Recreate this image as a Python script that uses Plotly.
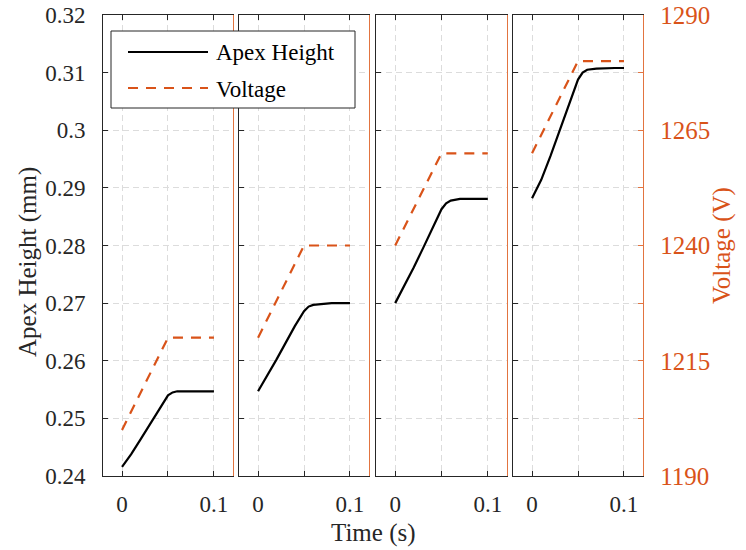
import plotly.graph_objects as go

# ---------------- data ----------------
time_apex = [0, 0.01, 0.02, 0.03, 0.04, 0.05, 0.055, 0.06, 0.07, 0.08, 0.09, 0.1]
apex_p1 = [0.2416, 0.2438, 0.2463, 0.2488, 0.2514, 0.2540, 0.2545, 0.2547, 0.2547, 0.2547, 0.2547, 0.2547]
apex_p2 = [0.2547, 0.2574, 0.2602, 0.2631, 0.2660, 0.2686, 0.2694, 0.2697, 0.2699, 0.2700, 0.2700, 0.2700]
apex_p3 = [0.2700, 0.2730, 0.2762, 0.2795, 0.2828, 0.2863, 0.2873, 0.2878, 0.2881, 0.2881, 0.2881, 0.2881]
apex_p4 = [0.2882, 0.2914, 0.2955, 0.2999, 0.3045, 0.3088, 0.3100, 0.3105, 0.3107, 0.3108, 0.3108, 0.3108]

time_volt = [0, 0.05, 0.1]
volt_p1 = [1200, 1220, 1220]
volt_p2 = [1220, 1240, 1240]
volt_p3 = [1240, 1260, 1260]
volt_p4 = [1260, 1280, 1280]

apex_ticks = [0.24, 0.25, 0.26, 0.27, 0.28, 0.29, 0.30, 0.31, 0.32]
apex_ticktext = ["0.24", "0.25", "0.26", "0.27", "0.28", "0.29", "0.3", "0.31", "0.32"]
volt_ticks = [1190, 1202.5, 1215, 1227.5, 1240, 1252.5, 1265, 1277.5, 1290]
volt_ticktext = ["1190", "", "1215", "", "1240", "", "1265", "", "1290"]
time_ticks = [0, 0.05, 0.1]
time_ticktext = ["0", "", "0.1"]

apex_series = [apex_p1, apex_p2, apex_p3, apex_p4]
volt_series = [volt_p1, volt_p2, volt_p3, volt_p4]

# ---------------- style ----------------
FONT = "Times New Roman, Liberation Serif, serif"
BLACK = "#262626"
ORANGE = "#D95319"
ORANGE_LINE = "#E27440"
GRID = "#DCDCDC"
FS = 23      # tick labels
FS_T = 25    # axis titles
FS_L = 23    # legend

domains = [[0.0, 0.2407], [0.2519, 0.4926], [0.5056, 0.7481], [0.7593, 1.0]]

fig = go.Figure()
layout = dict(
    width=746, height=550,
    margin=dict(l=103, r=103, t=15, b=74, autoexpand=False),
    paper_bgcolor="white", plot_bgcolor="white",
    showlegend=False,
    font=dict(family=FONT, size=FS, color=BLACK),
)

for i in range(4):
    xn = f"x{i+1}" if i > 0 else "x"
    yl = 2 * i + 1
    yr = 2 * i + 2
    yln = f"y{yl}" if yl > 1 else "y"
    yrn = f"y{yr}"

    fig.add_trace(go.Scatter(x=time_volt, y=volt_series[i], xaxis=xn, yaxis=yrn,
                             mode="lines", line=dict(color=ORANGE, width=2.2, dash="10px,8px"),
                             hoverinfo="skip"))
    fig.add_trace(go.Scatter(x=time_apex, y=apex_series[i], xaxis=xn, yaxis=yln,
                             mode="lines", line=dict(color="black", width=2.2),
                             hoverinfo="skip"))

    xkey = "xaxis" if i == 0 else f"xaxis{i+1}"
    ylkey = "yaxis" if yl == 1 else f"yaxis{yl}"
    yrkey = f"yaxis{yr}"

    layout[xkey] = dict(
        domain=domains[i], anchor=yln, range=[-0.0207, 0.1207],
        tickvals=time_ticks, ticktext=time_ticktext,
        ticks="inside", ticklen=5, tickcolor=BLACK, tickwidth=1,
        showline=True, linecolor=BLACK, linewidth=1, mirror="ticks",
        showgrid=True, gridcolor=GRID, griddash="6px,4px", gridwidth=1,
        zeroline=False, ticklabelstandoff=7, automargin=False,
        tickfont=dict(family=FONT, size=FS, color=BLACK),
    )
    layout[ylkey] = dict(
        domain=[0, 1], anchor=xn, range=[0.24, 0.32],
        tickvals=apex_ticks, ticktext=apex_ticktext,
        ticks="inside", ticklen=5, tickcolor=BLACK, tickwidth=1,
        showline=True, linecolor=BLACK, linewidth=1, mirror=False,
        showgrid=True, gridcolor=GRID, griddash="6px,4px", gridwidth=1,
        zeroline=False, showticklabels=(i == 0), ticklabelstandoff=12, automargin=False,
        tickfont=dict(family=FONT, size=FS, color=BLACK),
    )
    layout[yrkey] = dict(
        overlaying=yln, anchor=xn, side="right", range=[1190, 1290],
        tickvals=volt_ticks, ticktext=volt_ticktext,
        ticks="inside" if i == 3 else "", ticklen=5, tickcolor=ORANGE_LINE, tickwidth=1,
        showline=True, linecolor=ORANGE_LINE, linewidth=1.3,
        showgrid=False, zeroline=False, showticklabels=(i == 3), ticklabelstandoff=11, automargin=False,
        tickfont=dict(family=FONT, size=FS + 2, color=ORANGE),
    )

fig.update_layout(**layout)

# custom legend (MATLAB style long line samples)
def px2x(px):
    return (px - 103) / 540.0

def py2y(py):
    return (476 - py) / 461.0

shapes = [
    dict(type="rect", xref="paper", yref="paper", x0=px2x(111), x1=px2x(355), y0=py2y(108), y1=py2y(31),
         line=dict(color=BLACK, width=1), fillcolor="white", layer="above"),
    dict(type="line", xref="paper", yref="paper", x0=px2x(128), x1=px2x(208), y0=py2y(52), y1=py2y(52),
         line=dict(color="black", width=2.2), layer="above"),
    dict(type="line", xref="paper", yref="paper", x0=px2x(128), x1=px2x(208), y0=py2y(88), y1=py2y(88),
         line=dict(color=ORANGE, width=2.2, dash="10px,8px"), layer="above"),
]
annotations = [
    dict(text="Apex Height", xref="paper", yref="paper", x=px2x(214), y=py2y(53), xanchor="left", yanchor="middle",
         showarrow=False, font=dict(family=FONT, size=FS_L, color="black")),
    dict(text="Voltage", xref="paper", yref="paper", x=px2x(214), y=py2y(89), xanchor="left", yanchor="middle",
         showarrow=False, font=dict(family=FONT, size=FS_L, color="black")),
    dict(text="Time (s)", xref="paper", yref="paper", x=0.5, y=py2y(533), xanchor="center", yanchor="middle",
         showarrow=False, font=dict(family=FONT, size=FS_T, color=BLACK)),
    dict(text="Apex Height (mm)", xref="paper", yref="paper", x=px2x(28), y=py2y(262), xanchor="center", yanchor="middle",
         textangle=-90, showarrow=False, font=dict(family=FONT, size=FS_T, color=BLACK)),
    dict(text="Voltage (V)", xref="paper", yref="paper", x=px2x(722), y=py2y(246), xanchor="center", yanchor="middle",
         textangle=-90, showarrow=False, font=dict(family=FONT, size=FS_T, color=ORANGE)),
]
fig.update_layout(shapes=shapes, annotations=annotations)

fig.write_html("out.html", config={"displayModeBar": False},
               post_script="document.body.style.margin='0';document.body.style.padding='0';")
